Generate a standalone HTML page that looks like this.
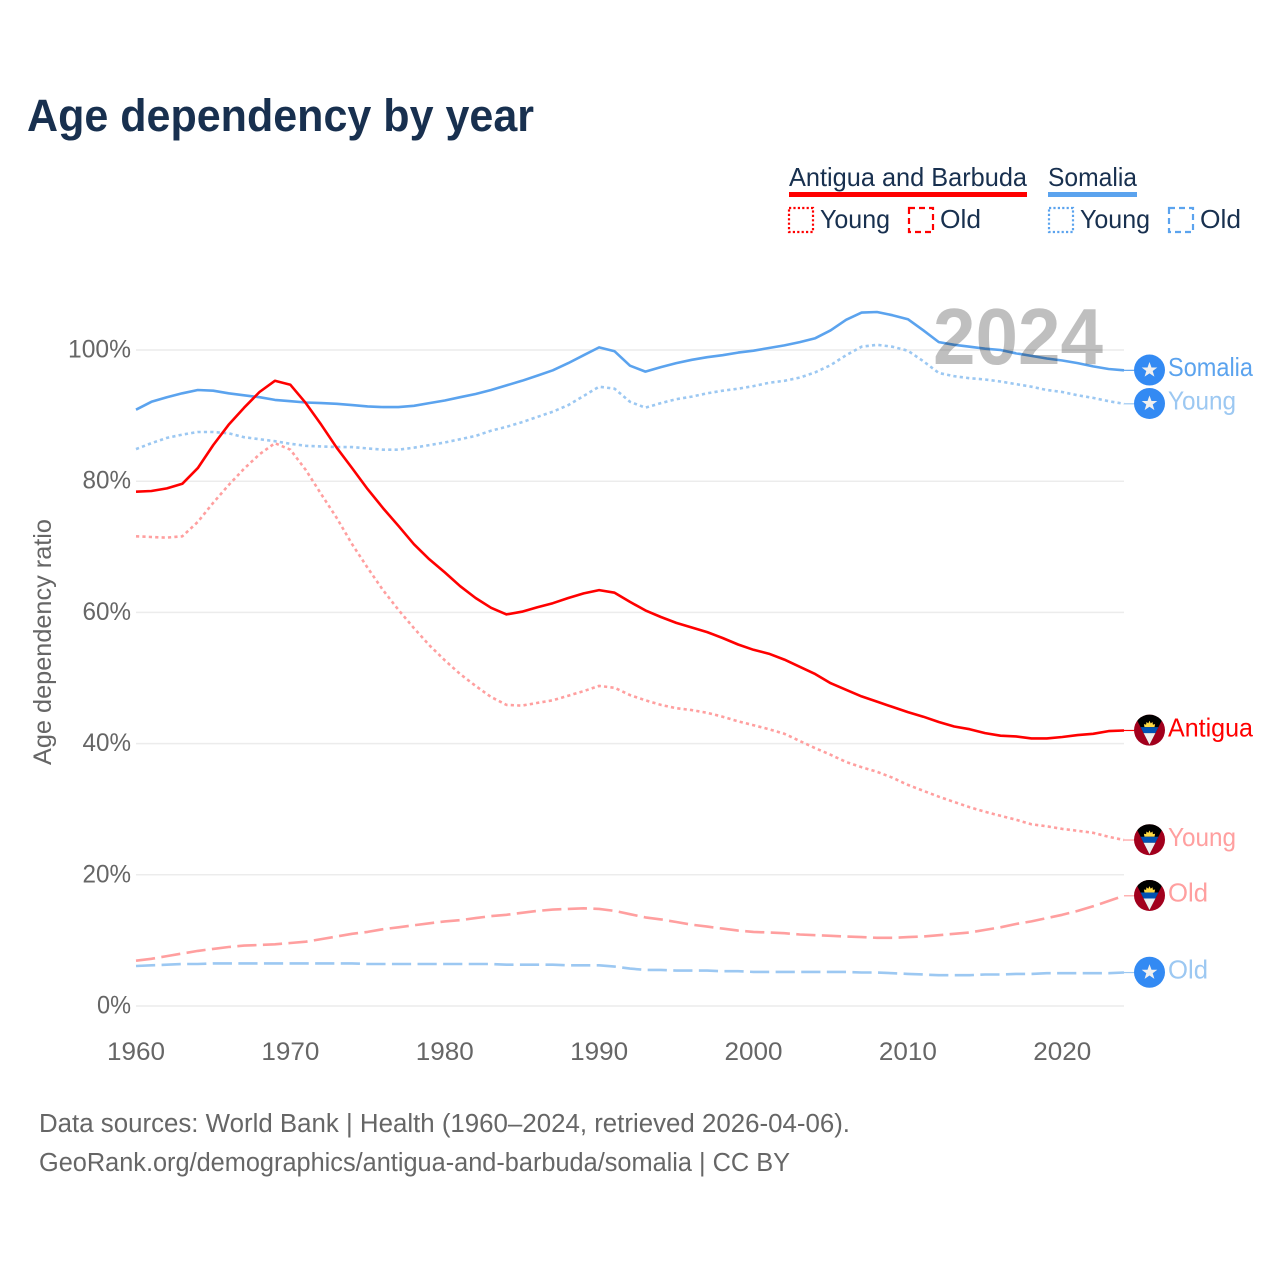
<!DOCTYPE html>
<html lang="en">
<head>
<meta charset="utf-8">
<title>Age dependency by year</title>
<style>
html,body{margin:0;padding:0;background:#fff;}
svg{display:block;font-family:"Liberation Sans",sans-serif;}
</style>
</head>
<body>
<svg id="chart" xmlns="http://www.w3.org/2000/svg" width="1280" height="1280" viewBox="0 0 1280 1280">
  <defs>
    <clipPath id="flag-clip"><circle cx="0" cy="0" r="15.5"></circle></clipPath>
  </defs>
  <rect x="0" y="0" width="1280" height="1280" fill="#fff"></rect>
  <text x="27" y="131" font-size="45" font-weight="700" fill="#18304f" textLength="507" lengthAdjust="spacingAndGlyphs">Age dependency by year</text>

  <g font-size="26" fill="#18304f">
    <text x="789" y="186" textLength="238" lengthAdjust="spacingAndGlyphs">Antigua and Barbuda</text>
    <rect x="789" y="192" width="238" height="5" fill="#ff0000"></rect>
    <text x="1048" y="186" textLength="89" lengthAdjust="spacingAndGlyphs">Somalia</text>
    <rect x="1048" y="192" width="89" height="5" fill="#5ba3ee"></rect>
    <rect x="789" y="208" width="24" height="24" fill="none" stroke="#ff0000" stroke-width="2.2" stroke-dasharray="2.2 2.2"></rect>
    <text x="820" y="228" textLength="70" lengthAdjust="spacingAndGlyphs">Young</text>
    <rect x="909" y="208" width="24" height="24" fill="none" stroke="#ff0000" stroke-width="2.2" stroke-dasharray="6 4"></rect>
    <text x="940" y="228" textLength="41" lengthAdjust="spacingAndGlyphs">Old</text>
    <rect x="1049" y="208" width="24" height="24" fill="none" stroke="#5ba3ee" stroke-width="2.2" stroke-dasharray="2.2 2.2"></rect>
    <text x="1080" y="228" textLength="70" lengthAdjust="spacingAndGlyphs">Young</text>
    <rect x="1169" y="208" width="24" height="24" fill="none" stroke="#5ba3ee" stroke-width="2.2" stroke-dasharray="6 4"></rect>
    <text x="1200" y="228" textLength="41" lengthAdjust="spacingAndGlyphs">Old</text>
  </g>

  <g id="grid"></g>
  <g id="yticks" font-size="25" fill="#666" text-anchor="end"></g>
  <g id="xticks" font-size="25" fill="#666" text-anchor="middle"></g>
  <text transform="translate(51,765) rotate(-90)" x="0" y="0" font-size="25" fill="#666" textLength="246" lengthAdjust="spacingAndGlyphs">Age dependency ratio</text>
  <g id="series"></g>
  <text x="933" y="364" font-size="80" font-weight="700" fill="#000" fill-opacity="0.25" textLength="170" lengthAdjust="spacingAndGlyphs">2024</text>
  <g id="endmarks"></g>

  <g font-size="25.5" fill="#666">
    <text x="39" y="1132" textLength="811" lengthAdjust="spacingAndGlyphs">Data sources: World Bank | Health (1960–2024, retrieved 2026-04-06).</text>
    <text x="39" y="1171" textLength="751" lengthAdjust="spacingAndGlyphs">GeoRank.org/demographics/antigua-and-barbuda/somalia | CC BY</text>
  </g>
</svg>
<script>
const startYear = 1960;
const xTickYears = [1960, 1970, 1980, 1990, 2000, 2010, 2020];
const yTickValues = [0, 20, 40, 60, 80, 100];

const antiguaTotal = [
  78.4,78.5,78.9,79.6,82.0,85.5,88.6,91.2,93.6,95.3,
  94.7,91.9,88.6,85.1,82.0,78.8,75.9,73.2,70.4,68.1,
  66.1,64.0,62.2,60.7,59.7,60.1,60.8,61.4,62.2,62.9,
  63.4,63.0,61.6,60.3,59.3,58.4,57.7,57.0,56.1,55.1,
  54.3,53.7,52.8,51.7,50.6,49.2,48.2,47.2,46.4,45.6,
  44.8,44.1,43.3,42.6,42.2,41.6,41.2,41.1,40.8,40.8,
  41.0,41.3,41.5,41.9,42.0
];
const antiguaYoung = [
  71.6,71.5,71.4,71.6,73.8,76.7,79.4,81.9,84.1,85.8,
  84.8,81.7,78.0,74.4,70.4,66.8,63.4,60.4,57.6,55.0,
  52.7,50.6,48.8,47.1,45.9,45.8,46.2,46.6,47.3,48.0,
  48.8,48.5,47.4,46.6,45.9,45.4,45.1,44.7,44.1,43.4,
  42.8,42.2,41.5,40.4,39.3,38.3,37.2,36.4,35.7,34.8,
  33.7,32.8,31.9,31.1,30.3,29.6,29.0,28.4,27.7,27.4,
  27.0,26.7,26.4,25.8,25.3
];
const antiguaOld = [
  6.9,7.2,7.6,8.0,8.4,8.7,9.0,9.2,9.3,9.4,
  9.6,9.8,10.2,10.6,11.0,11.3,11.7,12.0,12.3,12.6,
  12.9,13.1,13.4,13.7,13.9,14.2,14.5,14.7,14.8,14.9,
  14.8,14.5,14.0,13.5,13.2,12.8,12.4,12.1,11.8,11.5,
  11.3,11.2,11.1,10.9,10.8,10.7,10.6,10.5,10.4,10.4,
  10.5,10.6,10.8,11.0,11.2,11.6,12.0,12.5,12.9,13.4,
  13.9,14.5,15.2,16.0,16.8
];
const somaliaTotal = [
  90.9,92.1,92.8,93.4,93.9,93.8,93.4,93.1,92.8,92.4,
  92.2,92.0,91.9,91.8,91.6,91.4,91.3,91.3,91.5,91.9,
  92.3,92.8,93.3,93.9,94.6,95.3,96.1,96.9,98.0,99.2,
  100.4,99.8,97.6,96.7,97.4,98.0,98.5,98.9,99.2,99.6,
  99.9,100.3,100.7,101.2,101.8,103.0,104.6,105.7,105.8,105.3,
  104.7,103.0,101.2,100.8,100.5,100.2,100.0,99.5,99.1,98.7,
  98.4,98.0,97.5,97.1,96.9
];
const somaliaYoung = [
  84.9,85.8,86.6,87.1,87.5,87.5,87.3,86.7,86.4,86.1,
  85.7,85.4,85.3,85.2,85.2,85.0,84.8,84.8,85.1,85.5,
  85.9,86.4,86.9,87.7,88.3,89.0,89.8,90.6,91.6,93.0,
  94.4,94.1,92.1,91.2,91.9,92.5,92.9,93.4,93.8,94.1,
  94.5,95.0,95.3,95.8,96.6,97.7,99.2,100.5,100.8,100.5,
  99.9,98.3,96.5,96.0,95.7,95.5,95.2,94.8,94.4,93.9,
  93.6,93.1,92.7,92.2,91.8
];
const somaliaOld = [
  6.1,6.2,6.3,6.4,6.4,6.5,6.5,6.5,6.5,6.5,
  6.5,6.5,6.5,6.5,6.5,6.4,6.4,6.4,6.4,6.4,
  6.4,6.4,6.4,6.4,6.3,6.3,6.3,6.3,6.2,6.2,
  6.2,6.0,5.7,5.5,5.5,5.4,5.4,5.4,5.3,5.3,
  5.2,5.2,5.2,5.2,5.2,5.2,5.2,5.1,5.1,5.0,
  4.9,4.8,4.7,4.7,4.7,4.8,4.8,4.9,4.9,5.0,
  5.0,5.0,5.0,5.0,5.1
];

const NS = 'http://www.w3.org/2000/svg';
const xScale = function (year) { return 136 + (year - 1960) * (1124 - 136) / 64; };
const yScale = function (value) { return 1006 - value * 6.56; };

function make(tag, attrs, parent) {
  const node = document.createElementNS(NS, tag);
  Object.keys(attrs).forEach(function (k) { node.setAttribute(k, attrs[k]); });
  parent.appendChild(node);
  return node;
}

const gridLayer = document.getElementById('grid');
const yLayer = document.getElementById('yticks');
const xLayer = document.getElementById('xticks');
const seriesLayer = document.getElementById('series');
const endLayer = document.getElementById('endmarks');

yTickValues.forEach(function (v) {
  const line = make('line', { x1: 136, x2: 1124, y1: yScale(v), y2: yScale(v), stroke: '#ececec', 'stroke-width': 1.5 }, gridLayer);
  
  
  const str = v + '%';
  const label = make('text', { x: 131, y: yScale(v) + 7.5, textLength: (str.length - 1) * 14.5 + 19.5, lengthAdjust: 'spacingAndGlyphs' }, yLayer);
  
  
  label.textContent = str;
});

xTickYears.forEach(function (year) {
  const label = make('text', { x: xScale(year), y: 1060, textLength: 58, lengthAdjust: 'spacingAndGlyphs' }, xLayer);
  
  
  label.textContent = String(year);
});

function drawLine(values, color, dash, width, name) {
  const pts = values.map(function (v, i) {
    return xScale(startYear + i).toFixed(1) + ',' + yScale(v).toFixed(1);
  }).join(' ');
  const attrs = { points: pts, fill: 'none', stroke: color, 'stroke-width': width, 'stroke-linejoin': 'round' };
  if (dash) { attrs['stroke-dasharray'] = dash; }
  const line = make('polyline', attrs, seriesLayer);
  
  
}

drawLine(somaliaOld, '#9cc8f2', '19.2 6.4', 2.6, 'line-somalia-old');
drawLine(antiguaOld, '#ff9f9f', '19.2 6.4', 2.6, 'line-antigua-old');
drawLine(antiguaYoung, '#ff9f9f', '3.2 3.2', 2.6, 'line-antigua-young');
drawLine(somaliaYoung, '#9cc8f2', '3.2 3.2', 2.6, 'line-somalia-young');
drawLine(somaliaTotal, '#5ba3ee', '', 2.6, 'line-somalia-total');
drawLine(antiguaTotal, '#ff0000', '', 2.6, 'line-antigua-total');

function drawSomaliaFlag(g) {
  make('circle', { cx: 0, cy: 0, r: 15.5, fill: '#338af3' }, g);
  make('polygon', { points: '0,-8 2,-2.5 7.8,-2.5 3.2,1 4.9,6.6 0,3.3 -4.9,6.6 -3.2,1 -7.8,-2.5 -2,-2.5', fill: '#f0f0f0' }, g);
}

function drawAntiguaFlag(g) {
  const clip = make('g', { 'clip-path': 'url(#flag-clip)' }, g);
  make('rect', { x: -16, y: -16, width: 32, height: 32, fill: '#a2001d' }, clip);
  make('polygon', { points: '-15.3,-15.5 15.3,-15.5 0,14.5', fill: '#000' }, clip);
  make('polygon', { points: '-5,-3 -5.6,-6 -3.4,-5.6 -3,-8.2 -1.2,-6.8 0,-9.4 1.2,-6.8 3,-8.2 3.4,-5.6 5.6,-6 5,-3', fill: '#ffda44' }, clip);
  make('polygon', { points: '-8.9,-3 8.9,-3 5.9,3 -5.9,3', fill: '#0052b4' }, clip);
  make('polygon', { points: '-5.9,3 5.9,3 0,14.5', fill: '#f0f0f0' }, clip);
}

function drawEnd(values, color, text, textWidth, flag, name) {
  const last = values[values.length - 1];
  const y = yScale(last);
  const lead = make('line', { x1: 1124, x2: 1134, y1: y, y2: y, stroke: color, 'stroke-width': 1.2 }, endLayer);
  
  
  const icon = make('g', { transform: 'translate(1149.5,' + (y - 0.3) + ')' }, endLayer);
  
  
  flag(icon);
  const label = make('text', { x: 1168, y: y + 5.8, 'font-size': 26, fill: color, textLength: textWidth, lengthAdjust: 'spacingAndGlyphs' }, endLayer);
  
  
  label.textContent = text;
}

drawEnd(somaliaTotal, '#5ba3ee', 'Somalia', 85, drawSomaliaFlag, 'somalia-total');
drawEnd(somaliaYoung, '#9cc8f2', 'Young', 68, drawSomaliaFlag, 'somalia-young');
drawEnd(antiguaTotal, '#ff0000', 'Antigua', 85, drawAntiguaFlag, 'antigua-total');
drawEnd(antiguaYoung, '#ff9f9f', 'Young', 68, drawAntiguaFlag, 'antigua-young');
drawEnd(antiguaOld, '#ff9f9f', 'Old', 40, drawAntiguaFlag, 'antigua-old');
drawEnd(somaliaOld, '#9cc8f2', 'Old', 40, drawSomaliaFlag, 'somalia-old');
</script>
</body>
</html>
